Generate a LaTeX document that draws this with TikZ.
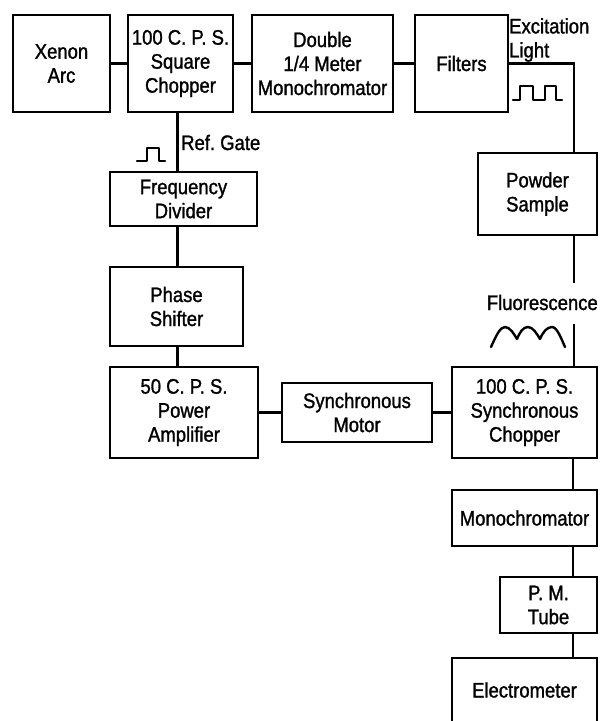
\documentclass[tikz,border=0pt]{standalone}
\usepackage{fontspec}
\setmainfont{Liberation Sans}[FakeStretch=0.88, FakeBold=1.3]
\newcommand\dgfont{\fontsize{21}{24}\selectfont}
\tikzset{
  box/.style={draw, line width=2.2pt, inner sep=0pt, align=center, font=\dgfont},
  wire/.style={line width=2.2pt},
  lbl/.style={inner sep=0pt, font=\dgfont, align=left},
  wave/.style={line width=2.4pt, line join=round, line cap=round}
}
\begin{document}
\begin{tikzpicture}[x=1pt,y=-1pt]
\useasboundingbox (0,0) rectangle (600,721);
% top row
\node[box, minimum width=97pt, minimum height=97pt] (xenon) at (61.5,63.5) {Xenon\\Arc};
\node[box, minimum width=105pt, minimum height=97pt] (sqchop) at (180.5,63.5) {100 C. P. S.\\Square\\Chopper};
\node[box, minimum width=141pt, minimum height=97pt] (dmono) at (322.5,63.5) {Double\\1/4 Meter\\Monochromator};
\node[box, minimum width=93pt, minimum height=97pt] (filters) at (461.5,63.5) {Filters};
% left column
\node[box, minimum width=147pt, minimum height=54pt] (freq) at (183.5,199) {Frequency\\Divider};
\node[box, minimum width=133pt, minimum height=79pt] (phase) at (176.5,306.5) {Phase\\Shifter};
\node[box, minimum width=148pt, minimum height=91pt] (amp) at (184,412.5) {50 C. P. S.\\Power\\Amplifier};
\node[box, minimum width=150pt, minimum height=59pt] (motor) at (357,412.5) {Synchronous\\Motor};
% right column
\node[box, minimum width=119pt, minimum height=82pt] (powder) at (537.5,194) {Powder\\Sample};
\node[box, minimum width=145pt, minimum height=91pt] (syncchop) at (524.5,412.5) {100 C. P. S.\\Synchronous\\Chopper};
\node[box, minimum width=145pt, minimum height=56pt] (mono) at (524.5,518) {Monochromator};
\node[box, minimum width=97pt, minimum height=56pt] (pmt) at (548.5,605) {P. M.\\Tube};
\node[box, minimum width=145pt, minimum height=64pt] (electro) at (524.5,690) {Electrometer};
% labels
\node[lbl, anchor=north west] (exc) at (509,18) {Excitation\\Light};
\node[lbl, anchor=base west] (ref) at (181,150) {Ref.\ Gate};
\node[lbl, anchor=base east] (fluo) at (598,310) {Fluorescence};
% coordinates
\coordinate (corner) at (574,63.5);
\coordinate (fl1) at (574,283);
\coordinate (fl2) at (574,324);
\coordinate (rx) at (573,0);
\coordinate (lx) at (177.5,0);
% connectors
\draw[wire] (xenon) -- (sqchop);
\draw[wire] (sqchop) -- (dmono);
\draw[wire] (dmono) -- (filters);
\draw[wire] (filters.east) -- (corner) -- (corner |- powder.north);
\draw[wire] (corner |- powder.south) -- (fl1);
\draw[wire] (fl2) -- (fl2 |- syncchop.north);
\draw[wire] (sqchop.south -| lx) -- (freq.north -| lx);
\draw[wire] (freq.south -| lx) -- (phase.north -| lx);
\draw[wire] (phase.south -| lx) -- (amp.north -| lx);
\draw[wire] (amp) -- (motor);
\draw[wire] (motor) -- (syncchop);
\draw[wire] (syncchop.south -| rx) -- (mono.north -| rx);
\draw[wire] (mono.south -| rx) -- (pmt.north -| rx);
\draw[wire] (pmt.south -| rx) -- (electro.north -| rx);
% waveforms
\draw[wave] (513,100) -- (520,100) -- (520,86) -- (533,86) -- (533,100) -- (545,100) -- (545,86) -- (556,86) -- (556,100) -- (562,100);
\draw[wave] (137,161) -- (147,161) -- (147,148) -- (159,148) -- (159,161) -- (165,161);
\draw[wave] (491,347) .. controls (496,336) and (500,327) .. (505,327)
  .. controls (510,327) and (514,334) .. (517,339)
  .. controls (520,332) and (523,327) .. (528,327)
  .. controls (533,327) and (537,334) .. (540,339)
  .. controls (543,332) and (547,327) .. (552,327)
  .. controls (557,327) and (561,338) .. (565,347);
\end{tikzpicture}
\end{document}
